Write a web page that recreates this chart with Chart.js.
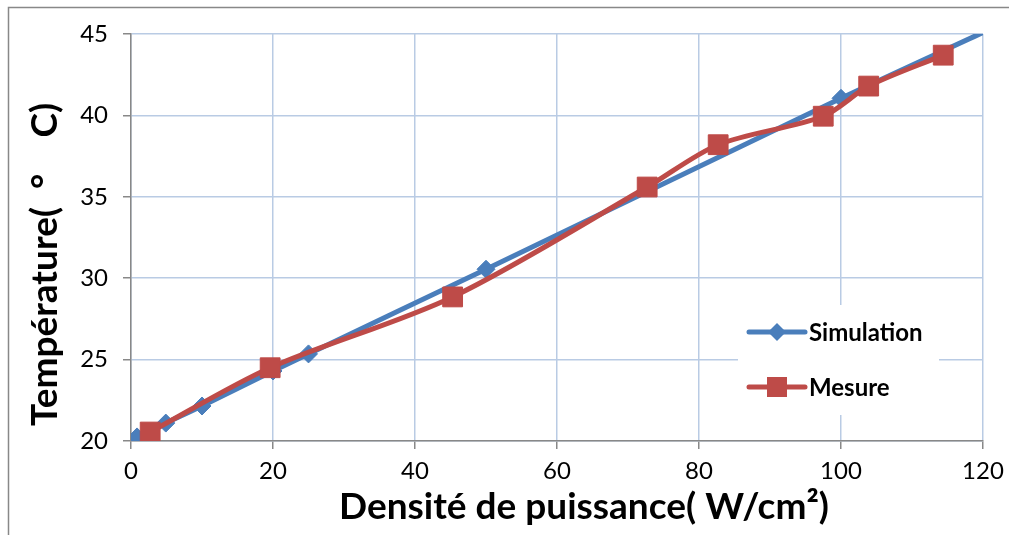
<!DOCTYPE html>
<html>
<head>
<meta charset="utf-8">
<script src="https://cdn.jsdelivr.net/npm/chart.js@4"></script>
<style>
  html, body { margin: 0; padding: 0; background: #fff; }
  #wrap { width: 1009px; height: 535px; position: relative; }
</style>
</head>
<body>
<div id="wrap"><canvas id="chart" width="1009" height="535"></canvas></div>
<script>
// data
const simX = [0.85, 4.9, 10, 20, 25, 50, 100, 120];
const simY = [20.25, 21.1, 22.15, 24.3, 25.35, 30.55, 41.05, 45.1];
const mesX = [2.7, 19.6, 45.3, 72.7, 82.7, 97.5, 103.9, 114.4];
const mesY = [20.55, 24.5, 28.85, 35.6, 38.2, 39.95, 41.8, 43.7];

const xTicks = [0, 20, 40, 60, 80, 100, 120];
const yTicks = [20, 25, 30, 35, 40, 45];

const BLUE = "#4a7ebb";
const RED = "#be4b48";
const GRID = "#b9cbe4";
const AXIS = "#888888";
const FONT = "Lato, 'Open Sans', sans-serif";

const toPts = (xs, ys) => xs.map((x, i) => ({ x, y: ys[i] }));

// outer frame (like the Excel chart border, cut off on the right/bottom)
const framePlugin = {
  id: "frame",
  beforeDraw(chart) {
    const ctx = chart.ctx;
    ctx.save();
    ctx.strokeStyle = AXIS;
    ctx.lineWidth = 1.5;
    ctx.strokeRect(8.5, 7.5, 1200, 700);
    ctx.restore();
  },
};

// legend box inside the plot, white background over the grid
const legendPlugin = {
  id: "boxLegend",
  afterDatasetsDraw(chart) {
    const ctx = chart.ctx;
    const a = chart.chartArea;
    const left = a.right - 245, top = a.top + 271;
    ctx.save();
    ctx.fillStyle = "#fff";
    ctx.fillRect(left, top, 201, 110);
    chart.data.datasets.forEach((ds, i) => {
      const y = top + 27 + i * 55;
      const x0 = left + 11, x1 = left + 67;
      ctx.strokeStyle = ds.borderColor;
      ctx.lineWidth = 5;
      ctx.lineCap = "round";
      ctx.beginPath();
      ctx.moveTo(x0, y);
      ctx.lineTo(x1, y);
      ctx.stroke();
      ctx.fillStyle = ds.borderColor;
      const cx = (x0 + x1) / 2;
      if (ds.pointStyle === "rectRot") {
        ctx.beginPath();
        ctx.moveTo(cx - 9, y);
        ctx.lineTo(cx, y - 9);
        ctx.lineTo(cx + 9, y);
        ctx.lineTo(cx, y + 9);
        ctx.closePath();
        ctx.fill();
      } else {
        ctx.fillRect(cx - 10, y - 10, 20, 20);
      }
      ctx.fillStyle = "#000";
      ctx.font = "bold 24px " + FONT;
      ctx.textBaseline = "middle";
      ctx.textAlign = "left";
      ctx.fillText(ds.label, x1 + 4, y + 1);
    });
    ctx.restore();
  },
};

new Chart(document.getElementById("chart"), {
  type: "scatter",
  data: {
    datasets: [
      {
        label: "Simulation",
        data: toPts(simX, simY),
        showLine: true,
        borderColor: BLUE,
        backgroundColor: BLUE,
        borderWidth: 5,
        tension: 0.3,
        pointStyle: "rectRot",
        pointRadius: (c) => (c.dataIndex === simX.length - 1 ? 0 : 9),
        pointBorderWidth: 1,
        order: 1,
      },
      {
        label: "Mesure",
        data: toPts(mesX, mesY),
        showLine: true,
        borderColor: RED,
        backgroundColor: RED,
        borderWidth: 5,
        tension: 0.3,
        pointStyle: "rect",
        pointRadius: 14,
        pointBorderWidth: 1,
        order: 0,
      },
    ],
  },
  options: {
    responsive: false,
    devicePixelRatio: 1,
    animation: false,
    layout: { padding: { left: 0, right: 26, top: 34, bottom: 0 } },
    plugins: {
      legend: { display: false },
      tooltip: { enabled: false },
    },
    scales: {
      x: {
        type: "linear",
        min: 0,
        max: 120,
        afterFit: (s) => { s.height = 94; s.paddingLeft = 0; s.paddingRight = 0; },
        afterBuildTicks: (s) => { s.ticks = xTicks.map((v) => ({ value: v })); },
        grid: { color: GRID, lineWidth: 1.5, tickColor: AXIS, tickLength: 8 },
        border: { color: AXIS, width: 1.5 },
        ticks: { color: "#000", font: { family: FONT, size: 24 }, padding: 8, maxRotation: 0 },
        title: {
          display: true,
          text: "      Densité de puissance( W/cm²)",
          color: "#000",
          font: { family: FONT, size: 37, weight: "bold" },
          padding: { top: 0, bottom: 6 },
        },
      },
      y: {
        type: "linear",
        min: 20,
        max: 45,
        afterFit: (s) => { s.width = 131; s.paddingTop = 0; s.paddingBottom = 0; },
        afterBuildTicks: (s) => { s.ticks = yTicks.map((v) => ({ value: v })); },
        grid: { color: GRID, lineWidth: 1.5, tickColor: AXIS, tickLength: 8 },
        border: { color: AXIS, width: 1.5 },
        ticks: { color: "#000", font: { family: FONT, size: 24 }, padding: 15 },
        title: {
          display: true,
          text: "Température(  °    C)      ",
          color: "#000",
          font: { family: FONT, size: 37, weight: "bold" },
          padding: { top: 23, bottom: 0 },
        },
      },
    },
  },
  plugins: [framePlugin, legendPlugin],
});
</script>
</body>
</html>
